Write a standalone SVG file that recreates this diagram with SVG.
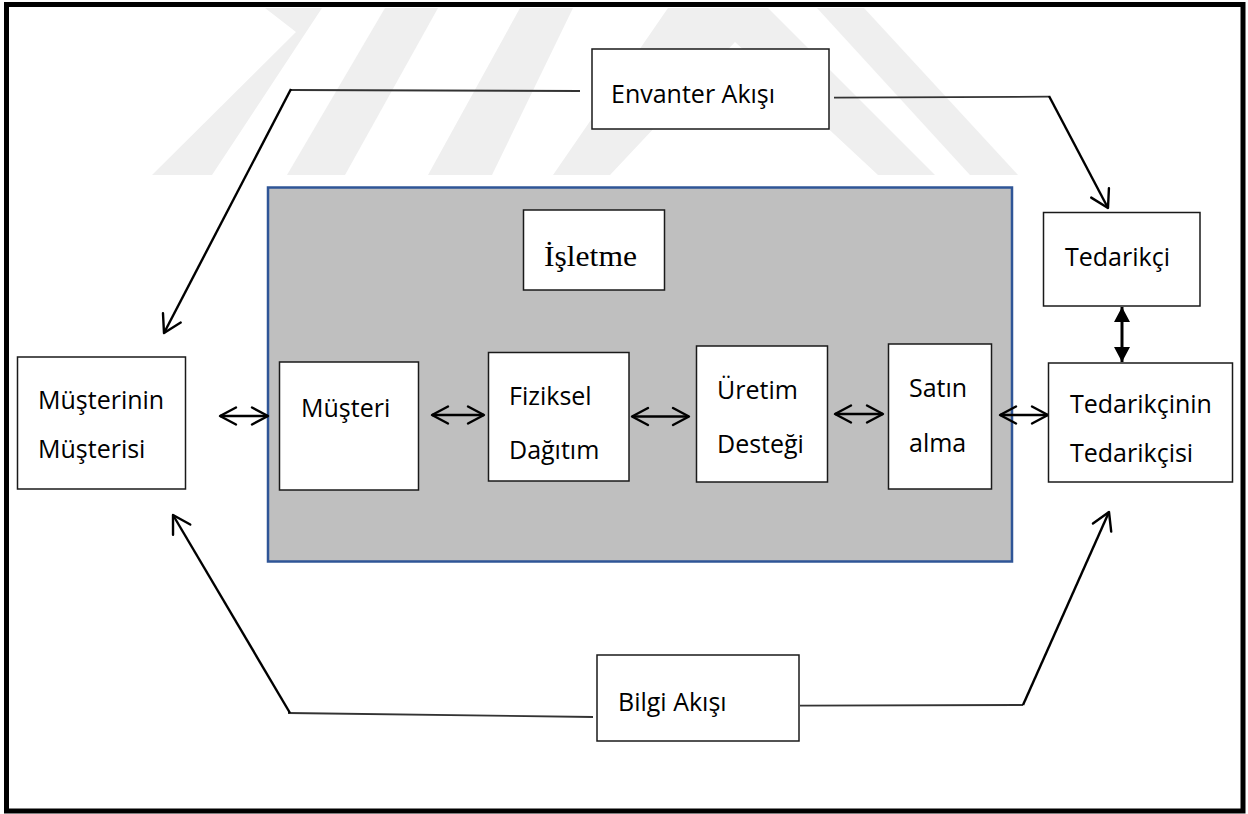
<svg xmlns="http://www.w3.org/2000/svg" width="1248" height="814" viewBox="0 0 1248 814">
<defs>
<style>
.wm{fill:#efefef}
.box{fill:#ffffff;stroke:#1a1a1a;stroke-width:1.5}
.t{font-family:"Open Sans","Noto Sans",sans-serif;font-size:25px;fill:#000}
.ts{font-family:"Liberation Serif","Times New Roman",serif;font-size:30px;fill:#000}
.h{fill:none;stroke:#333;stroke-width:1.8}
.d{fill:none;stroke:#000;stroke-width:2.4;marker-end:url(#open)}
.dbl{fill:none;stroke:#000;stroke-width:2.4;marker-start:url(#dh);marker-end:url(#dh)}
.fv{fill:none;stroke:#000;stroke-width:3;marker-start:url(#fh);marker-end:url(#fh)}
</style>
<marker id="open" markerUnits="userSpaceOnUse" viewBox="0 0 22 24" markerWidth="22" markerHeight="24" refX="19" refY="12" orient="auto" overflow="visible">
<path d="M2,2 L19,12 L2,22" fill="none" stroke="#000" stroke-width="2.4" stroke-linecap="round" stroke-linejoin="round"/>
</marker>
<marker id="dh" markerUnits="userSpaceOnUse" viewBox="0 0 20 20" markerWidth="20" markerHeight="20" refX="17" refY="10" orient="auto-start-reverse" overflow="visible">
<path d="M1,1.5 L17,10 L1,18.5" fill="none" stroke="#000" stroke-width="2.4" stroke-linecap="round" stroke-linejoin="round"/>
</marker>
<marker id="fh" markerUnits="userSpaceOnUse" viewBox="0 0 16 16" markerWidth="16" markerHeight="16" refX="15" refY="8" orient="auto-start-reverse" overflow="visible">
<path d="M0,0 L15,8 L0,16 Z" fill="#000"/>
</marker>
</defs>
<rect x="0" y="0" width="1248" height="814" fill="#ffffff"/>
<g id="watermark">
<polygon class="wm" points="265,8 322,8 212,175 152,175 296,32"/>
<polygon class="wm" points="385,8 438,8 345,175 287,175"/>
<polygon class="wm" points="520,8 573,8 492,175 428,175"/>
<polygon class="wm" points="668,8 768,8 935,175 878,175 735,42 610,175 553,175"/>
<polygon class="wm" points="817,8 864,8 1018,175 970,175"/>
</g>
<rect id="frame" x="6.5" y="4.5" width="1236.5" height="806.5" fill="none" stroke="#000" stroke-width="5"/>
<g id="isletme-area">
<rect x="268" y="187.5" width="744" height="374" fill="#bfbfbf" stroke="#2f5597" stroke-width="2.5"/>
</g>
<g id="connectors">
<polyline class="h" points="580,91 291,90"/>
<line class="d" x1="291" y1="89" x2="164" y2="333"/>
<polyline class="h" points="834,97.7 1049,96.7"/>
<line class="d" x1="1049" y1="96" x2="1108" y2="208"/>
<polyline class="h" points="593,717 288,713"/>
<line class="d" x1="290" y1="713" x2="173" y2="515"/>
<polyline class="h" points="800,705.7 1023,705"/>
<line class="d" x1="1023" y1="705" x2="1109" y2="512"/>
<line class="dbl" x1="220" y1="416" x2="268" y2="416"/>
<line class="dbl" x1="432" y1="415" x2="484" y2="415"/>
<line class="dbl" x1="632" y1="416.5" x2="689" y2="416.5"/>
<line class="dbl" x1="835" y1="414" x2="883" y2="414"/>
<line class="dbl" x1="1000" y1="415" x2="1048" y2="415"/>
<line class="fv" x1="1122" y1="307" x2="1122" y2="362"/>
</g>
<g id="envanter">
<rect class="box" x="592" y="49" width="237" height="80"/>
<text class="t" x="611" y="103">Envanter Akışı</text>
</g>
<g id="bilgi">
<rect class="box" x="597" y="655" width="202" height="86"/>
<text class="t" x="618" y="711">Bilgi Akışı</text>
</g>
<g id="isletme">
<rect class="box" x="523.5" y="210" width="141" height="80"/>
<text class="ts" x="544" y="266" textLength="93" lengthAdjust="spacingAndGlyphs">İşletme</text>
</g>
<g id="musterinin-musterisi">
<rect class="box" x="17.5" y="357" width="168" height="132"/>
<text class="t" x="38" y="409">Müşterinin</text>
<text class="t" x="38" y="458">Müşterisi</text>
</g>
<g id="musteri">
<rect class="box" x="279.5" y="362" width="139" height="128"/>
<text class="t" x="301" y="417">Müşteri</text>
</g>
<g id="fiziksel-dagitim">
<rect class="box" x="488.5" y="352.5" width="140.5" height="128.5"/>
<text class="t" x="509" y="405">Fiziksel</text>
<text class="t" x="509" y="459">Dağıtım</text>
</g>
<g id="uretim-destegi">
<rect class="box" x="696.5" y="346" width="131" height="136"/>
<text class="t" x="717" y="399">Üretim</text>
<text class="t" x="717" y="453">Desteği</text>
</g>
<g id="satin-alma">
<rect class="box" x="888.5" y="344" width="103" height="145"/>
<text class="t" x="909" y="397">Satın</text>
<text class="t" x="909" y="452">alma</text>
</g>
<g id="tedarikci">
<rect class="box" x="1043.5" y="212.5" width="156.5" height="93.5"/>
<text class="t" x="1065" y="266">Tedarikçi</text>
</g>
<g id="tedarikcinin-tedarikcisi">
<rect class="box" x="1048.5" y="363" width="184" height="119"/>
<text class="t" x="1070" y="413">Tedarikçinin</text>
<text class="t" x="1070" y="462">Tedarikçisi</text>
</g>
</svg>
